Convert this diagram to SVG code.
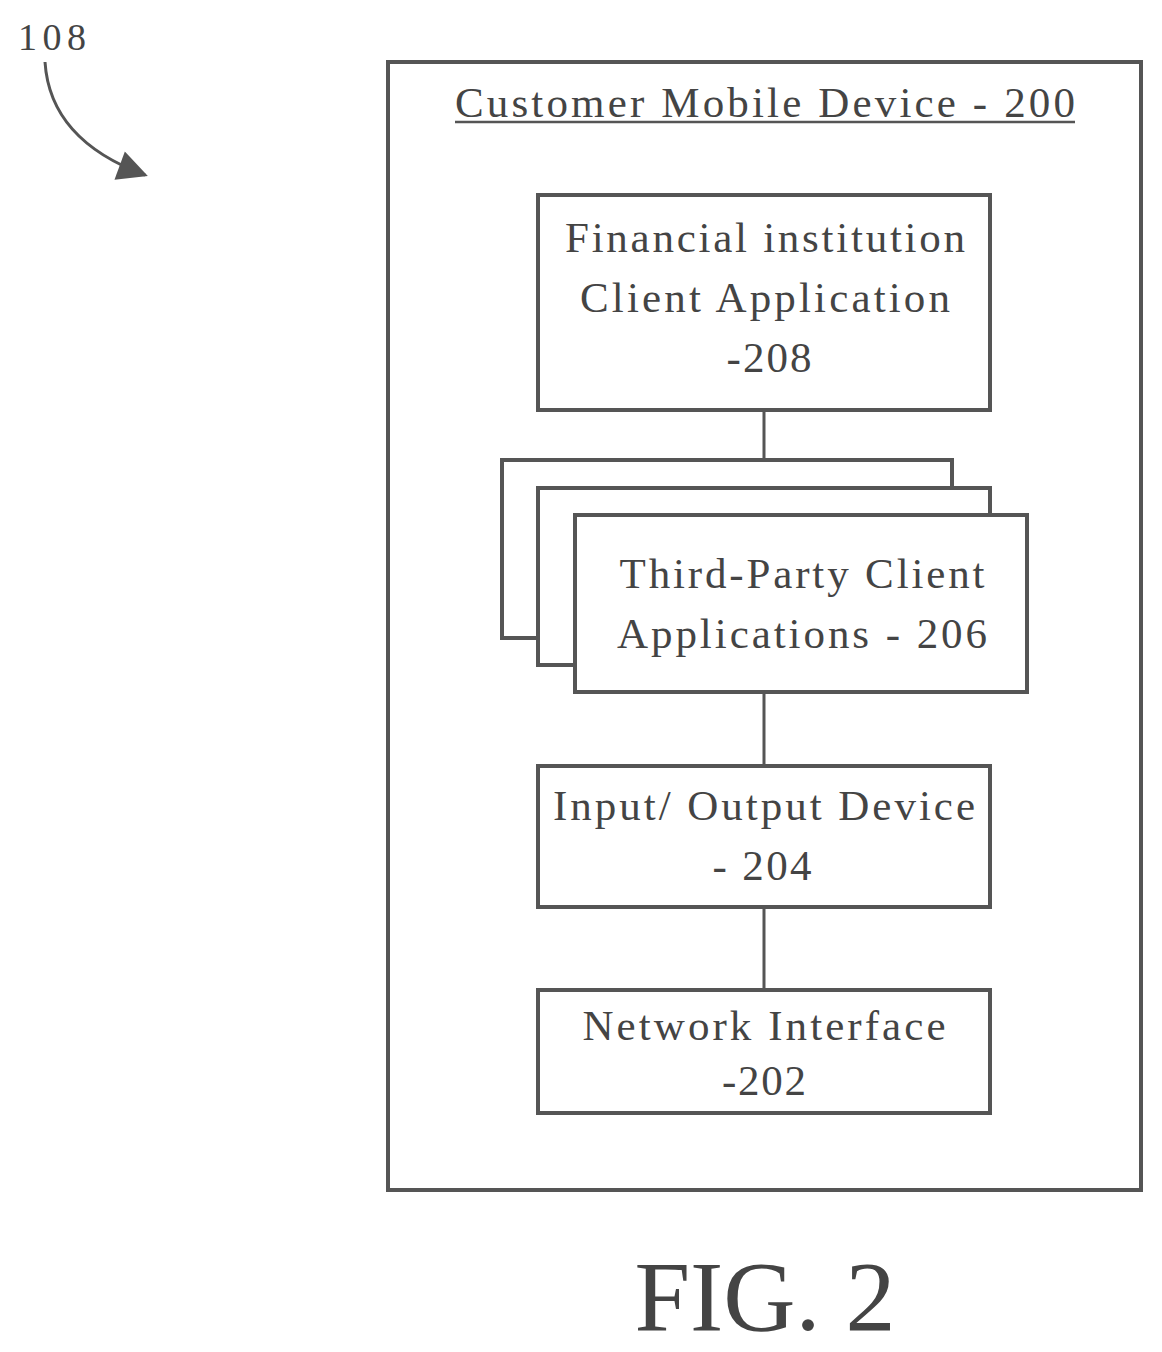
<svg xmlns="http://www.w3.org/2000/svg" width="1162" height="1352" viewBox="0 0 1162 1352">
<style>
.b{fill:#fff;stroke:#555;stroke-width:4}
.t{font-family:"Liberation Serif",serif;font-size:43px;fill:#444;text-anchor:middle}
.c{stroke:#555;stroke-width:3;fill:none}
</style>
<defs>
<marker id="ah" viewBox="0 0 10 10" refX="9" refY="5" markerWidth="40" markerHeight="30" orient="auto" markerUnits="userSpaceOnUse"><path d="M0,0L10,5L0,10z" fill="#555"/></marker></defs>
<rect width="1162" height="1352" fill="#fff"/>
<text x="18" y="50" font-family="Liberation Serif,serif" font-size="38" fill="#444" textLength="68" lengthAdjust="spacing">108</text>
<path class="c" d="M45,62 Q50,140 145,175" marker-end="url(#ah)"/>
<g id="n200"><rect class="b" x="388" y="62" width="753" height="1128"/>
<text class="t" x="765" y="117" textLength="620" lengthAdjust="spacing">Customer Mobile Device - 200</text>
<line x1="455" y1="122" x2="1075" y2="122" stroke="#555" stroke-width="2.5"/></g>
<g id="connectors">
<line class="c" x1="764" y1="410" x2="764" y2="488"/>
<line class="c" x1="764" y1="692" x2="764" y2="766"/>
<line class="c" x1="764" y1="907" x2="764" y2="990"/>
</g>
<g id="n208"><rect class="b" x="538" y="195" width="452" height="215"/>
<text class="t" x="765" y="252" textLength="400" lengthAdjust="spacing">Financial institution</text>
<text class="t" x="765" y="312" textLength="370" lengthAdjust="spacing">Client Application</text>
<text class="t" x="769" y="372" textLength="85" lengthAdjust="spacing">-208</text></g>
<g id="n206">
<rect class="b" x="502" y="460" width="450" height="178"/>
<rect class="b" x="538" y="488" width="452" height="177"/>
<rect class="b" x="575" y="515" width="452" height="177"/>
<text class="t" x="802" y="588" textLength="365" lengthAdjust="spacing">Third-Party Client</text>
<text class="t" x="802" y="648" textLength="370" lengthAdjust="spacing">Applications - 206</text></g>
<g id="n204"><rect class="b" x="538" y="766" width="452" height="141"/>
<text class="t" x="764" y="820" textLength="422" lengthAdjust="spacing">Input/ Output Device</text>
<text class="t" x="762" y="880" textLength="99" lengthAdjust="spacing">- 204</text></g>
<g id="n202"><rect class="b" x="538" y="990" width="452" height="123"/>
<text class="t" x="764" y="1040" textLength="363" lengthAdjust="spacing">Network Interface</text>
<text class="t" x="764" y="1095" textLength="84" lengthAdjust="spacing">-202</text></g>
<text x="765" y="1330" font-family="Liberation Serif,serif" font-size="100" fill="#444" text-anchor="middle">FIG. 2</text>
</svg>
